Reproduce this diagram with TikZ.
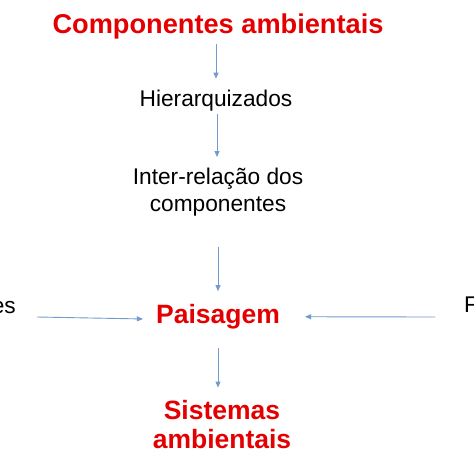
\documentclass[tikz,border=0pt]{standalone}
\usepackage{fontspec}
\setmainfont{Liberation Sans}
\usepackage{tikz}
\usetikzlibrary{arrows.meta}
\usetikzlibrary{calc}
\definecolor{titred}{RGB}{228,0,0}
\definecolor{arrblue}{RGB}{115,155,205}

\begin{document}
\begin{tikzpicture}[x=1pt, y=-1pt,
  big/.style={inner sep=0, anchor=base, text=titred, font=\fontsize{26.5}{27}\bfseries\selectfont, align=center},
  small/.style={inner sep=0, anchor=base, font=\fontsize{22.7}{24}\selectfont, align=center},
  arr/.style={draw=arrblue, line width=0.9pt, -{Triangle[length=6pt, width=5pt]}}]
\useasboundingbox[fill=white] (0,0) rectangle (474,474);

\node[big, font=\fontsize{27.2}{28}\bfseries\selectfont] (comp) at (218,33) {Componentes ambientais};
\node[small] (hier) at (216,106) {Hierarquizados};
\node[small, anchor=north] (inter) at (218,168) {Inter-relação dos\\[3pt]componentes};
\node[big] (pais) at (218,323) {Paisagem};
\node[big, anchor=north] (sist) at (222,400) {Sistemas\\[2.5pt]ambientais};
\node[small, anchor=base east] (esq) at (16,313) {es};
\node[small, anchor=base west] (dir) at (464,312) {F};

\coordinate (ltail) at (37,317);
\coordinate (rtail) at (435,317);

\draw[arr, shorten <=5pt, shorten >=10.7pt] (comp.south -| 216,0) -- (hier.north -| 216,0);
\draw[arr, shorten <=3pt, shorten >=11pt] (hier.south -| 217,0) -- (inter.north -| 217,0);
\draw[arr, shorten <=30pt, shorten >=12.4pt] (inter.south -| 218,0) -- (pais.north -| 218,0);
\draw[arr, shorten <=19.5pt, shorten >=12.4pt] (pais.south -| 218,0) -- (sist.north -| 218,0);
\draw[arr, shorten >=13pt] (ltail) -- ([yshift=-3pt]pais.west);
\draw[arr, shorten >=25pt] (rtail) -- ([yshift=-0.5pt]pais.east);
\end{tikzpicture}
\end{document}
